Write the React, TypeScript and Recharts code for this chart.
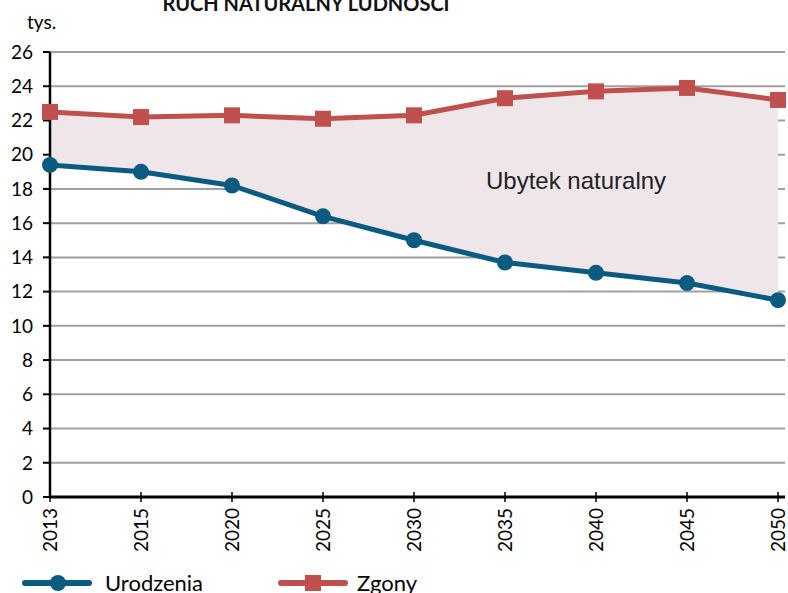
import { Area, CartesianGrid, ComposedChart, Legend, Line, XAxis, YAxis } from 'recharts';

// dane (tys.)
const years = ['2013', '2015', '2020', '2025', '2030', '2035', '2040', '2045', '2050'];
const urodzenia = [19.4, 19.0, 18.2, 16.4, 15.0, 13.7, 13.1, 12.5, 11.5];
const zgony = [22.5, 22.2, 22.3, 22.1, 22.3, 23.3, 23.7, 23.9, 23.2];
const yTicks = [0, 2, 4, 6, 8, 10, 12, 14, 16, 18, 20, 22, 24, 26];

const data = years.map((year, i) => ({ year, urodzenia: urodzenia[i], zgony: zgony[i] }));

const BLUE = '#0b5a80';
const RED = '#c0504d';
const FONT = 'Lato, "Open Sans", sans-serif';

const XTick = ({ x, y, payload }: any) => (
    <g transform={`translate(${x},${y})`}>
        <line x1={0} x2={0} y1={-10} y2={0} stroke="#000" strokeWidth={1.5} />
        <text transform="rotate(-90)" x={-6} y={0} dy="0.35em" textAnchor="end" fill="#000" fontSize={19} fontFamily={FONT}>
            {payload.value}
        </text>
    </g>
);

const SquareDot = ({ cx, cy }: any) => (
    <rect x={cx - 8} y={cy - 8} width={16} height={16} fill={RED} />
);

const LegendContent = ({ payload }: any) => (
    <svg width={788} height={30}>
        {(payload || []).filter((e: any) => e.type !== 'none' && typeof e.dataKey === 'string').map((entry: any, i: number) => {
            const x0 = 25 + i * 256;
            const color = entry.color;
            return (
                <g key={entry.value}>
                    <line x1={x0} x2={x0 + 64} y1={15} y2={15} stroke={color} strokeWidth={6} strokeLinecap="round" />
                    {i === 0
                        ? <circle cx={x0 + 33} cy={15} r={8} fill={color} />
                        : <rect x={x0 + 24} y={7} width={16} height={16} fill={color} />}
                    <text x={x0 + 80 - i * 4} y={23} fontSize={22} fontFamily={FONT} fill="#000">{entry.value}</text>
                </g>
            );
        })}
    </svg>
);

export default function App() {
    return (
        <div style={{ position: 'absolute', left: 0, top: 0, width: 788, height: 593, overflow: 'hidden', background: '#fff' }}>
            <ComposedChart width={788} height={593} data={data} margin={{ top: 52, right: 3, left: 0, bottom: 36 }}>
                <text x={306} y={11} textAnchor="middle" fontSize={20} fontWeight="bold" fontFamily={FONT} fill="#111">
                    RUCH  NATURALNY  LUDNOŚCI
                </text>
                <text x={27} y={29} fontSize={19} fontFamily={FONT} fill="#000">tys.</text>
                <CartesianGrid vertical={false} stroke="#a0a0a0" strokeWidth={2} />
                <XAxis
                    dataKey="year"
                    height={60}
                    interval={0}
                    padding={{ left: 0, right: 7 }}
                    tickLine={false}
                    tickSize={5}
                    tickMargin={0}
                    tick={<XTick />}
                    axisLine={{ stroke: '#000', strokeWidth: 3 }}
                />
                <YAxis
                    width={50}
                    domain={[0, 26]}
                    ticks={yTicks}
                    interval={0}
                    tickSize={7}
                    tickMargin={10}
                    tick={{ fill: '#000', fontSize: 19, fontFamily: FONT }}
                    tickLine={{ stroke: '#000', strokeWidth: 2 }}
                    axisLine={{ stroke: '#000', strokeWidth: 2.5 }}
                />
                <Area
                    dataKey={(d: any) => [d.urodzenia, d.zgony]}
                    fill="#efe6ea"
                    fillOpacity={1}
                    stroke="none"
                    legendType="none"
                    isAnimationActive={false}
                />
                <Line
                    dataKey="urodzenia"
                    name="Urodzenia"
                    stroke={BLUE}
                    strokeWidth={5}
                    strokeLinejoin="round"
                    dot={{ r: 8, fill: BLUE, stroke: 'none' }}
                    activeDot={false}
                    isAnimationActive={false}
                />
                <Line
                    dataKey="zgony"
                    name="Zgony"
                    stroke={RED}
                    strokeWidth={5}
                    strokeLinejoin="round"
                    dot={<SquareDot />}
                    activeDot={false}
                    isAnimationActive={false}
                />
                <Legend
                    layout="vertical"
                    align="center"
                    verticalAlign="middle"
                    content={<LegendContent />}
                    wrapperStyle={{ left: 0, top: 568, width: 788, height: 30 }}
                />
            </ComposedChart>
            <div
                style={{
                    position: 'absolute',
                    left: 486,
                    top: 169,
                    fontSize: 24,
                    lineHeight: '24px',
                    fontFamily: '"Liberation Sans", Arial, sans-serif',
                    color: '#222',
                    whiteSpace: 'nowrap',
                    pointerEvents: 'none',
                }}
            >
                Ubytek naturalny
            </div>
        </div>
    );
}
